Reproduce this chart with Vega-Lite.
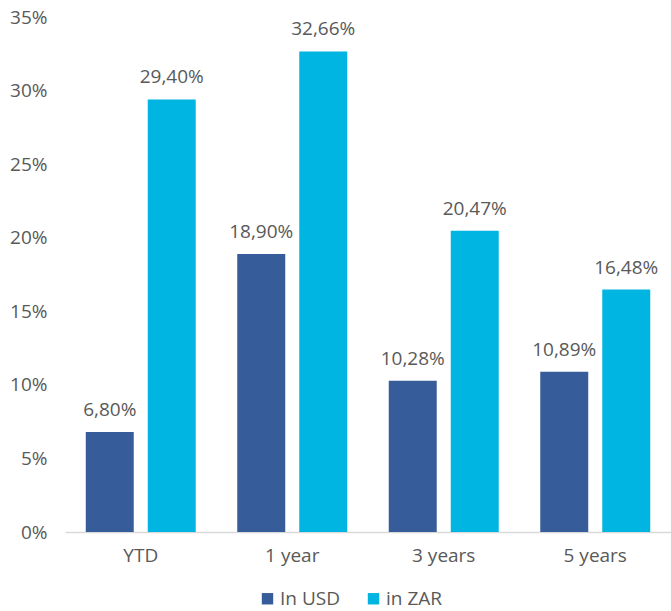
{
  "$schema": "https://vega.github.io/schema/vega-lite/v6.json",
  "width": 606,
  "height": 515,
  "autosize": {"type": "none"},
  "padding": {"left": 65, "top": 17, "right": 0, "bottom": 79},
  "background": "white",
  "config": {
    "locale": {"number": {"decimal": ",", "thousands": ".", "grouping": [3], "currency": ["", ""]}},
    "view": {"stroke": null},
    "font": "Open Sans"
  },
  "data": {
    "values": [
      {"period": "YTD", "series": "In USD", "value": 0.068},
      {"period": "YTD", "series": "in ZAR", "value": 0.294},
      {"period": "1 year", "series": "In USD", "value": 0.189},
      {"period": "1 year", "series": "in ZAR", "value": 0.3266},
      {"period": "3 years", "series": "In USD", "value": 0.1028},
      {"period": "3 years", "series": "in ZAR", "value": 0.2047},
      {"period": "5 years", "series": "In USD", "value": 0.1089},
      {"period": "5 years", "series": "in ZAR", "value": 0.1648}
    ]
  },
  "encoding": {
    "x": {
      "field": "period", "type": "nominal", "sort": ["YTD", "1 year", "3 years", "5 years"],
      "scale": {"paddingInner": 0.274, "paddingOuter": 0.137},
      "axis": {"title": null, "labelAngle": 0, "ticks": false, "domainColor": "#d9d9d9", "domainWidth": 1.5,
               "labelFontSize": 19, "labelColor": "#595959", "labelPadding": 14}
    },
    "xOffset": {"field": "series", "type": "nominal", "scale": {"paddingInner": 0.226, "paddingOuter": 0}},
    "y": {
      "field": "value", "type": "quantitative",
      "scale": {"domain": [0, 0.35]},
      "axis": {"title": null, "format": ".0%", "values": [0,0.05,0.1,0.15,0.2,0.25,0.3,0.35],
               "labelOverlap": false, "labelBound": false, "labelFlush": false,
               "grid": false, "domain": false, "ticks": false, "labelFontSize": 19, "labelColor": "#595959", "labelPadding": 18}
    }
  },
  "layer": [
    {
      "mark": {"type": "bar"},
      "encoding": {
        "color": {
          "field": "series", "type": "nominal",
          "scale": {"domain": ["In USD", "in ZAR"], "range": ["#375C9A", "#00B5E2"]},
          "legend": {"title": null, "orient": "none", "direction": "horizontal", "legendX": 193, "legendY": 572,
                     "symbolType": "square", "symbolSize": 130, "symbolStrokeWidth": 0, "labelFontSize": 19,
                     "labelColor": "#595959", "columnPadding": 24, "labelOffset": 3}
        }
      }
    },
    {
      "mark": {"type": "text", "baseline": "alphabetic", "dy": -16, "fontSize": 19, "color": "#595959"},
      "encoding": {"text": {"field": "value", "type": "quantitative", "format": ".2%"}}
    }
  ]
}
